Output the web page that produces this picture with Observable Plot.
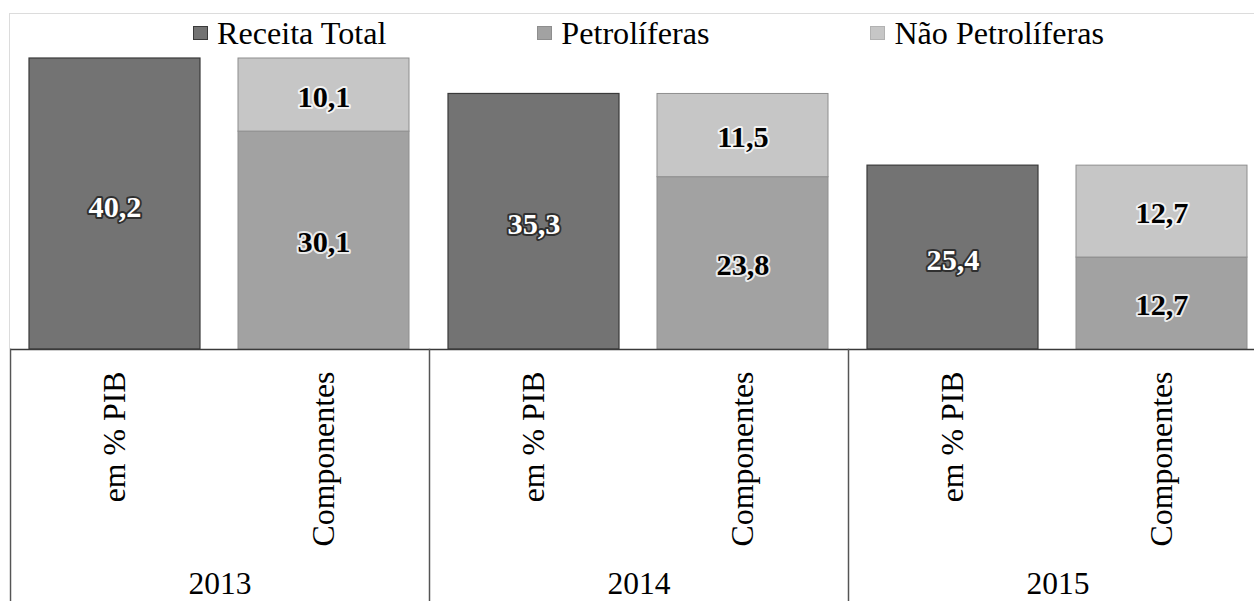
<!DOCTYPE html>
<html><head><meta charset="utf-8">
<script src="https://cdn.jsdelivr.net/npm/d3@7"></script>
<script src="https://cdn.jsdelivr.net/npm/@observablehq/plot@0.6"></script>
<style>
body{margin:0;background:#fff;}
#wrap{position:relative;width:1254px;height:601px;overflow:hidden;}
#frame{position:absolute;left:9px;top:13px;right:-2px;bottom:-2px;border-top:1px solid #dcdcdc;border-left:1px solid #dcdcdc;pointer-events:none;}
#legend{position:relative;height:50px;display:flex;align-items:flex-end;padding-left:193px;box-sizing:border-box;color:#000;}
.item{display:flex;align-items:center;white-space:nowrap;height:34px;}
.sw{width:15px;height:14px;margin-right:9px;box-sizing:border-box;border:1px solid;}
#chart svg{display:block;}
</style></head><body>
<div id="wrap"><div id="frame"></div><div id="legend"></div><div id="chart"></div></div>
<script>
// ---- data ----
const years = ["2013", "2014", "2015"];
const groups = ["em % PIB", "Componentes"];
const series = ["Receita Total", "Petrolíferas", "Não Petrolíferas"];
const receitaTotal = [40.2, 35.3, 25.4];
const petroliferas = [30.1, 23.8, 12.7];
const naoPetroliferas = [10.1, 11.5, 12.7];

// ---- styles ----
const fills = ["#737373", "#a2a2a2", "#c6c6c6"];
const edges = ["#3a3a3a", "#8e8e8e", "#b2b2b2"];
const legendGaps = [151, 161, 0];
const FONT = '"Liberation Serif", Tinos, "Times New Roman", "Nimbus Roman", "DejaVu Serif", serif';

function fit(text, target, weight) {
  const c = document.createElement("canvas").getContext("2d");
  c.font = `${weight || "normal"} 100px ${FONT}`;
  return 100 * target / c.measureText(text).width;
}
const legendSize = fit("Receita Total", 170);
const axisSize = fit("Componentes", 175);
const yearSize = fit("2013", 63);
const valueSize = fit("40,2", 53, "bold");

const totalRows = years.map((y, i) => ({year: y, group: groups[0], series: series[0], value: receitaTotal[i]}));
const compRows = years.flatMap((y, i) => [
  {year: y, group: groups[1], series: series[1], value: petroliferas[i]},
  {year: y, group: groups[1], series: series[2], value: naoPetroliferas[i]}
]);
const fmt = v => d3.format(".1f")(v).replace(".", ",");

// legend
const legend = d3.select("#legend").style("font-family", FONT).style("font-size", legendSize + "px").style("line-height", "34px");
series.forEach((s, i) => {
  const it = legend.append("div").attr("class", "item").style("margin-right", legendGaps[i] + "px");
  it.append("div").attr("class", "sw").style("background", fills[i]).style("border-color", edges[i]);
  it.append("span").text(s);
});

const W = 1254, H = 551, MT = 8, MB = 252;
const chart = Plot.plot({
  width: W, height: H, marginTop: MT, marginBottom: MB, marginLeft: 10, marginRight: 0,
  style: {fontFamily: FONT, background: "transparent", color: "#000"},
  fx: {domain: years, range: [10, 1267], padding: 0, label: null},
  x: {domain: groups, paddingInner: 0.181, paddingOuter: 0.0905, label: null},
  y: {domain: [0, 40.2], axis: null},
  color: {domain: series, range: fills},
  marks: [
    Plot.barY(totalRows, {fx: "year", x: "group", y: "value", fill: "series", stroke: edges[0], strokeWidth: 1.2}),
    Plot.barY(compRows, {fx: "year", x: "group", y: "value", fill: "series", stroke: edges[1], strokeWidth: 1}),
    Plot.text(totalRows, Plot.stackY({fx: "year", x: "group", y: "value", text: d => fmt(d.value),
      fill: "white", stroke: "#1a1a1a", strokeWidth: 4, strokeOpacity: 0.75, paintOrder: "stroke",
      fontSize: valueSize, fontWeight: "bold", dy: 3})),
    Plot.text(compRows, Plot.stackY({fx: "year", x: "group", y: "value", z: "series", text: d => fmt(d.value),
      fill: "black", stroke: "white", strokeWidth: 4, strokeOpacity: 0.8, paintOrder: "stroke",
      fontSize: valueSize, fontWeight: "bold", dy: 2})),
    Plot.ruleY([0], {stroke: "#3a3a3a", strokeWidth: 1.5}),
    Plot.frame({anchor: "left", stroke: "#555", strokeWidth: 1.5, insetTop: H - MT - MB, insetBottom: -MB}),
    Plot.axisX({anchor: "bottom", tickRotate: -90, tickSize: 0, tickPadding: 22, fontSize: axisSize, label: null}),
    Plot.axisFx({anchor: "bottom", tickSize: 0, tickPadding: 222, fontSize: yearSize, label: null})
  ]
});
document.getElementById("chart").appendChild(chart);
</script>
</body></html>
